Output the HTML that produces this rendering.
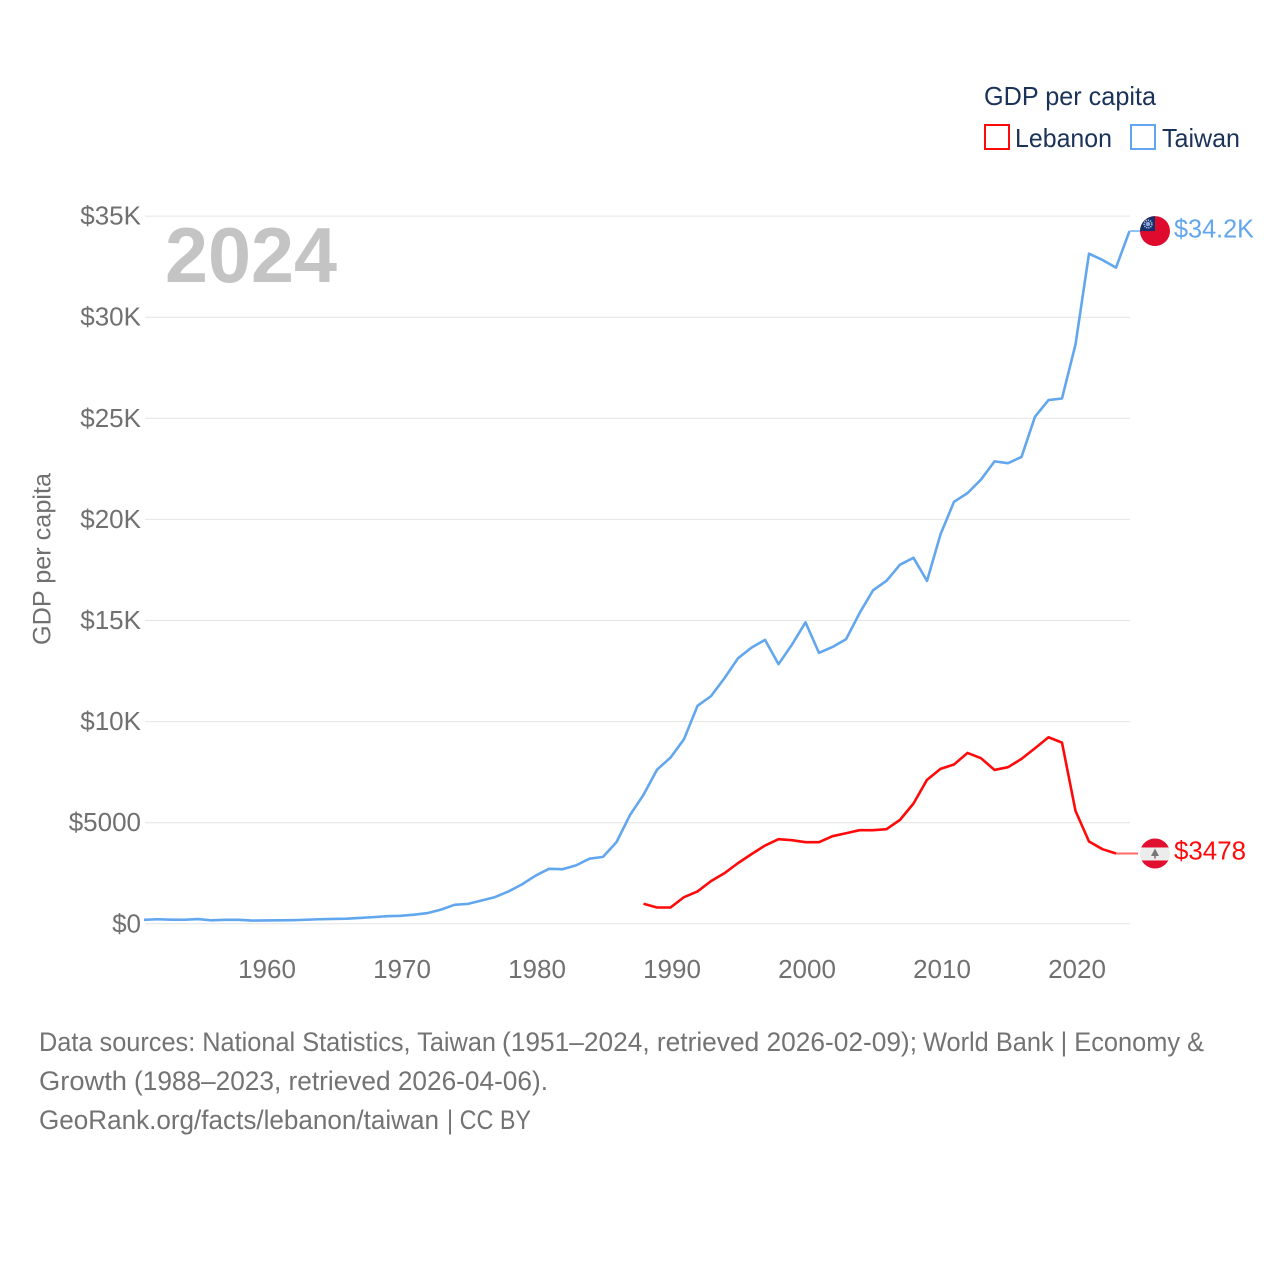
<!DOCTYPE html>
<html lang="en">
<head>
<meta charset="utf-8">
<title>GDP per capita: Lebanon and Taiwan</title>
<style>
html,body{margin:0;padding:0;background:#fff;width:1280px;height:1280px;overflow:hidden}
svg{display:block;font-family:"Liberation Sans",sans-serif}
</style>
</head>
<body>
<svg id="chart" xmlns="http://www.w3.org/2000/svg" width="1280" height="1280" viewBox="0 0 1280 1280">
  <defs>
    <clipPath id="clip-taiwan"><circle id="clip-taiwan-circle" cx="1155" cy="231" r="15"/></clipPath>
    <clipPath id="clip-lebanon"><circle id="clip-lebanon-circle" cx="1155" cy="853" r="15"/></clipPath>
  </defs>
  <g id="grid"></g>
  <g id="ylabels"></g>
  <g id="xlabels"></g>
  <text transform="translate(50.5,645) rotate(-90)" font-size="25" fill="#707070" textLength="172" lengthAdjust="spacingAndGlyphs">GDP per capita</text>
  <text x="165" y="282" font-size="78" font-weight="700" fill="#c4c4c4" textLength="172" lengthAdjust="spacingAndGlyphs">2024</text>
  <g id="series"></g>
  <g id="ends"></g>
  <g>
    <text x="984" y="105" font-size="26" fill="#1b3358" textLength="172" lengthAdjust="spacingAndGlyphs">GDP per capita</text>
    <rect x="985" y="125" width="24" height="24" fill="none" stroke="#ff0a0a" stroke-width="2"/>
    <text x="1015" y="147" font-size="26" fill="#1b3358" textLength="97" lengthAdjust="spacingAndGlyphs">Lebanon</text>
    <rect x="1131" y="125" width="24" height="24" fill="none" stroke="#62a7ee" stroke-width="2"/>
    <text x="1162" y="147" font-size="26" fill="#1b3358" textLength="78" lengthAdjust="spacingAndGlyphs">Taiwan</text>
  </g>
  <g font-size="26.5" fill="#737373">
    <text x="39" y="1051" textLength="457" lengthAdjust="spacingAndGlyphs">Data sources: National Statistics, Taiwan</text>
    <text x="502" y="1051" textLength="415" lengthAdjust="spacingAndGlyphs">(1951–2024, retrieved 2026-02-09);</text>
    <text x="923" y="1051" textLength="281" lengthAdjust="spacingAndGlyphs">World Bank | Economy &amp;</text>
    <text x="39" y="1090" textLength="88" lengthAdjust="spacingAndGlyphs">Growth</text>
    <text x="134" y="1090" textLength="414" lengthAdjust="spacingAndGlyphs">(1988–2023, retrieved 2026-04-06).</text>
    <text x="39" y="1129" textLength="400" lengthAdjust="spacingAndGlyphs">GeoRank.org/facts/lebanon/taiwan</text>
    <text x="447" y="1129" textLength="84" lengthAdjust="spacingAndGlyphs">| CC BY</text>
  </g>
</svg>
<script>
const yTickValues = [0, 5000, 10000, 15000, 20000, 25000, 30000, 35000];
const yTickLabels = ["$0", "$5000", "$10K", "$15K", "$20K", "$25K", "$30K", "$35K"];
const xTickYears = [1960, 1970, 1980, 1990, 2000, 2010, 2020];
const xTickLabels = ["1960", "1970", "1980", "1990", "2000", "2010", "2020"];
const taiwanStartYear = 1951;
const taiwanValues = [198, 225, 205, 200, 235, 170, 195, 195, 160, 165, 170, 180, 200, 225, 240, 255,
  290, 330, 375, 397, 450, 530, 703, 940, 985, 1150, 1320, 1600, 1950, 2380,
  2720, 2700, 2890, 3220, 3310, 4040, 5380, 6380, 7620, 8220,
  9130, 10780, 11260, 12150, 13130, 13660, 14040, 12840, 13810, 14910,
  13400, 13690, 14070, 15360, 16490, 16960, 17760, 18100, 16960, 19260,
  20870, 21300, 21970, 22870, 22780, 23090, 25080, 25900, 25980, 28650,
  33140, 32830, 32450, 34260];
const lebanonStartYear = 1988;
const lebanonValues = [990, 806, 806, 1318, 1600, 2110, 2505, 3000, 3445, 3870,
  4185, 4135, 4035, 4035, 4333, 4480, 4630, 4630, 4680, 5140,
  5950, 7120, 7660, 7880, 8450, 8190, 7610, 7745, 8155, 8680,
  9225, 8960, 5585, 4070, 3690, 3478];
const endLabels = ["$34.2K", "$3478"];

const NS = "http://www.w3.org/2000/svg";
function xScale(year) { return 144 + (year - 1951) * 13.5; }
function yScale(value) { return 923.8 - value * 0.02022; }
function make(tag, attrs, parent, text) {
  const el = document.createElementNS(NS, tag);
  for (const k in attrs) el.setAttribute(k, attrs[k]);
  if (text !== undefined) el.textContent = text;
  parent.appendChild(el);
  return el;
}
const grid = document.getElementById("grid");
const ylabels = document.getElementById("ylabels");
const xlabels = document.getElementById("xlabels");
const seriesG = document.getElementById("series");
const ends = document.getElementById("ends");

yTickValues.forEach(function (v, i) {
  const line = make("line", {x1: 145, x2: 1130, y1: yScale(v), y2: yScale(v), stroke: "#e4e4e4", "stroke-width": 1}, grid);
  
  
  const label = make("text", {x: 141, y: yScale(v) + 8.5, "text-anchor": "end", "font-size": 26, fill: "#707070"}, ylabels, yTickLabels[i]);
  
  
});
xTickYears.forEach(function (yr, i) {
  const label = make("text", {x: xScale(yr) + 1.5, y: 978, "text-anchor": "middle", "font-size": 26, fill: "#707070"}, xlabels, xTickLabels[i]);
  
  
});
function pointsFor(values, startYear) {
  return values.map(function (v, i) { return xScale(startYear + i).toFixed(2) + "," + yScale(v).toFixed(2); }).join(" ");
}
const taiwanLine = make("polyline", {points: pointsFor(taiwanValues, taiwanStartYear), fill: "none", stroke: "#62a7ee", "stroke-width": 2.6, "stroke-linejoin": "round"}, seriesG);


const lebanonLine = make("polyline", {points: pointsFor(lebanonValues, lebanonStartYear), fill: "none", stroke: "#ff0a0a", "stroke-width": 2.6, "stroke-linejoin": "round"}, seriesG);



const taiwanLast = taiwanValues[taiwanValues.length - 1];
const lebanonLast = lebanonValues[lebanonValues.length - 1];
const ty = yScale(taiwanLast);
const ly = yScale(lebanonLast);
document.getElementById("clip-taiwan-circle").setAttribute("cy", ty);
document.getElementById("clip-lebanon-circle").setAttribute("cy", ly);

const tConn = make("line", {x1: xScale(taiwanStartYear + taiwanValues.length - 1), x2: 1141, y1: ty, y2: ty, stroke: "#8fc0f2", "stroke-width": 2}, ends);


const lConn = make("line", {x1: xScale(lebanonStartYear + lebanonValues.length - 1), x2: 1138, y1: ly, y2: ly, stroke: "#ff6a6a", "stroke-width": 2}, ends);



const tFlag = make("g", {"clip-path": "url(#clip-taiwan)"}, ends);


make("rect", {x: 1140, y: ty - 15, width: 30, height: 30, fill: "#de0b2e"}, tFlag);
make("rect", {x: 1140, y: ty - 15, width: 15, height: 15, fill: "#16306b"}, tFlag);
make("circle", {cx: 1148, cy: ty - 7, r: 3.8, fill: "#16306b", stroke: "#b8cdea", "stroke-width": 1.6, "stroke-dasharray": "1.2 1"}, tFlag);
make("circle", {cx: 1148, cy: ty - 7, r: 2.2, fill: "#8da9d6"}, tFlag);

const lFlag = make("g", {"clip-path": "url(#clip-lebanon)"}, ends);


make("rect", {x: 1140, y: ly - 16, width: 30, height: 32, fill: "#ececec"}, lFlag);
make("rect", {x: 1140, y: ly - 16, width: 30, height: 10, fill: "#e10f30"}, lFlag);
make("rect", {x: 1140, y: ly + 7, width: 30, height: 9, fill: "#e10f30"}, lFlag);
make("polygon", {points: [1155, ly - 5, 1151, ly + 2.5, 1154.2, ly + 2.5, 1154.2, ly + 5, 1155.8, ly + 5, 1155.8, ly + 2.5, 1159, ly + 2.5].join(" "), fill: "#777"}, lFlag);

const tLabel = make("text", {x: 1174, y: ty + 6.5, "font-size": 26, fill: "#62a7ee", textLength: 80, lengthAdjust: "spacingAndGlyphs"}, ends, endLabels[0]);


const lLabel = make("text", {x: 1174, y: ly + 6, "font-size": 26, fill: "#ff0a0a", textLength: 72, lengthAdjust: "spacingAndGlyphs"}, ends, endLabels[1]);


</script>
</body>
</html>
